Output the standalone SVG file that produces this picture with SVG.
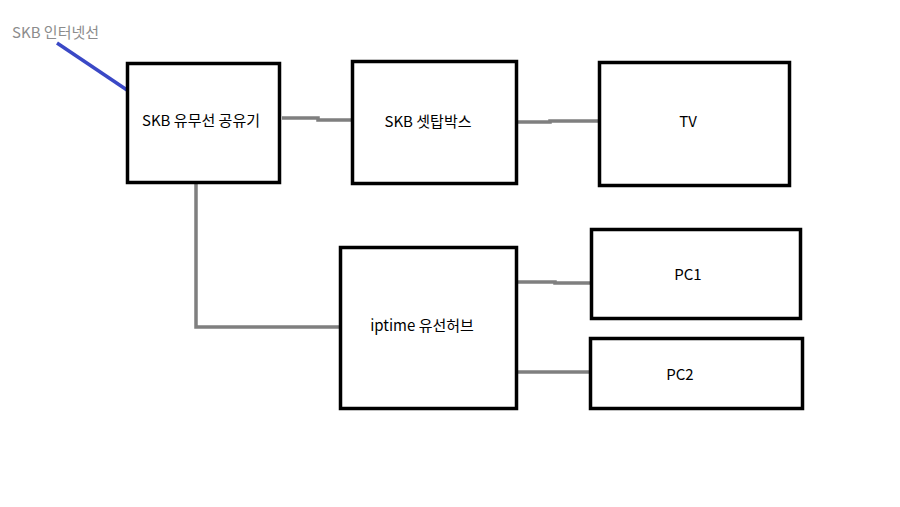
<svg xmlns="http://www.w3.org/2000/svg" width="900" height="507" viewBox="0 0 900 507">
<style>
.box{fill:#fff;stroke:#000;stroke-width:3.5}
.lbl{font-family:"Noto Sans CJK KR","Noto Sans",sans-serif;font-size:15px;fill:#000;text-anchor:middle}
.wire{fill:none;stroke:#7f7f7f;stroke-width:3.5}
</style>
<rect width="900" height="507" fill="#fff"/>
<g id="connectors">
<path class="wire" d="M282,118 L318,118 L318,120 L351,120"/>
<path class="wire" d="M518,122 L550,122 L550,121 L598,121"/>
<path class="wire" d="M196,184 L196,327 L339,327"/>
<path class="wire" d="M518,282 L555,282 L555,283 L590,283"/>
<path class="wire" d="M518,372 L589,372"/>
<line x1="57" y1="43" x2="127" y2="90" stroke="#3a48c6" stroke-width="3.5"/>
</g>
<g id="internet-label">
<text x="12" y="38" style="font-family:'Noto Sans CJK KR','Noto Sans',sans-serif;font-size:15px;fill:#8c8c8c">SKB 인터넷선</text>
</g>
<g id="router">
<rect class="box" x="127.5" y="63.5" width="152" height="119"/>
<text class="lbl" x="201" y="126">SKB 유무선 공유기</text>
</g>
<g id="settop">
<rect class="box" x="352.5" y="61.5" width="164" height="122"/>
<text class="lbl" x="428" y="127">SKB 셋탑박스</text>
</g>
<g id="tv">
<rect class="box" x="599.5" y="62.5" width="190" height="123"/>
<text class="lbl" x="688" y="127">TV</text>
</g>
<g id="hub">
<rect class="box" x="340.5" y="247.5" width="176" height="161"/>
<text class="lbl" x="422" y="331">iptime 유선허브</text>
</g>
<g id="pc1">
<rect class="box" x="591.5" y="229.5" width="209" height="89"/>
<text class="lbl" x="688" y="280">PC1</text>
</g>
<g id="pc2">
<rect class="box" x="590.5" y="338.5" width="212" height="70"/>
<text class="lbl" x="680" y="380">PC2</text>
</g>
</svg>
